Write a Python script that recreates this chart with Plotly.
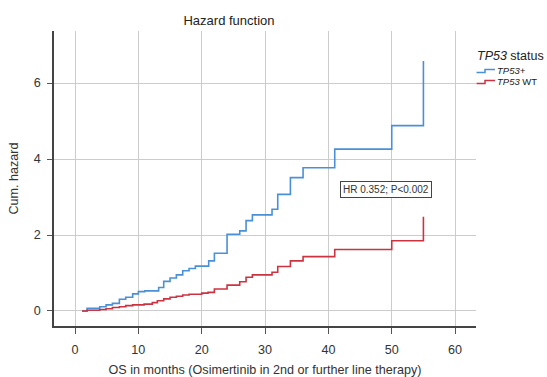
import plotly.graph_objects as go

# Step times (months) and cumulative hazard after each step
tp53_pos_t = [1.1, 1.9, 3.9, 4.9, 5.9, 7.0, 8.0, 9.1, 10.0, 11.0, 13.2, 14.0, 15.0, 16.0,
              17.0, 18.0, 19.0, 21.1, 22.0, 24.0, 26.0, 27.0, 28.0, 31.1, 32.0, 34.0,
              36.0, 41.0, 50.0, 55.0, 55.0]
tp53_pos_h = [0.0, 0.07, 0.11, 0.16, 0.20, 0.31, 0.36, 0.45, 0.51, 0.53, 0.62, 0.78, 0.87, 0.95,
              1.06, 1.12, 1.18, 1.32, 1.52, 2.02, 2.11, 2.38, 2.53, 2.68, 3.07, 3.51,
              3.77, 4.26, 4.88, 4.88, 6.58]

tp53_wt_t = [1.1, 1.9, 3.9, 4.9, 5.9, 7.0, 8.0, 9.1, 10.9, 12.2, 13.0, 14.0, 15.0, 16.0,
             17.0, 18.0, 20.0, 21.0, 22.0, 24.0, 26.0, 27.0, 28.0, 31.1, 32.0, 34.0,
             36.0, 41.0, 50.0, 55.0, 55.0]
tp53_wt_h = [0.0, 0.02, 0.04, 0.06, 0.09, 0.11, 0.14, 0.16, 0.18, 0.22, 0.27, 0.32, 0.36, 0.39,
             0.42, 0.44, 0.47, 0.49, 0.58, 0.68, 0.77, 0.89, 0.95, 1.02, 1.17, 1.32,
             1.43, 1.62, 1.85, 1.85, 2.48]

x_ticks = [0, 10, 20, 30, 40, 50, 60]
y_ticks = [0, 2, 4, 6]

series_names = ["<i>TP53+</i>", "<i>TP53</i> WT"]
legend_title = "<i>TP53</i> status"

BLUE = "#4a90d6"
RED = "#cc3340"
FONT = "Liberation Sans, Arial, sans-serif"
W, H = 547, 377
ML, MR, MT, MB = 54, 71, 31, 51
PW, PH = W - ML - MR, H - MT - MB


def px2paper_x(px):
    return (px - ML) / PW


def py2paper_y(py):
    return (H - MB - py) / PH


fig = go.Figure()
fig.add_trace(go.Scatter(x=tp53_pos_t, y=tp53_pos_h, mode="lines", line_shape="hv",
                         line=dict(color=BLUE, width=1.6), name=series_names[0]))
fig.add_trace(go.Scatter(x=tp53_wt_t, y=tp53_wt_h, mode="lines", line_shape="hv",
                         line=dict(color=RED, width=1.6), name=series_names[1]))

fig.add_annotation(x=49.1, y=3.21, xref="x", yref="y", text="HR 0.352; P<0.002",
                   showarrow=False, font=dict(family=FONT, size=10, color="#333"),
                   bordercolor="#444", borderwidth=1, borderpad=2, bgcolor="white")

# Custom legend (step-shaped keys)
fig.add_annotation(x=px2paper_x(475), y=py2paper_y(56.5), xref="paper", yref="paper",
                   text=legend_title, showarrow=False, xanchor="left", yanchor="middle",
                   font=dict(family=FONT, size=12.5, color="#222"))
for i, (name, col) in enumerate(zip(series_names, [BLUE, RED])):
    base = 72.5 + i * 11
    xs = [476.5, 485, 485, 495]
    ys = [base, base, base - 3, base - 3]
    path = "M " + " L ".join(f"{px2paper_x(a)},{py2paper_y(b)}" for a, b in zip(xs, ys))
    fig.add_shape(type="path", path=path, xref="paper", yref="paper",
                  line=dict(color=col, width=1.5))
    fig.add_annotation(x=px2paper_x(496), y=py2paper_y(base - 2), xref="paper", yref="paper",
                       text=name, showarrow=False, xanchor="left", yanchor="middle",
                       borderpad=0,
                       font=dict(family=FONT, size=9.5, color="#222"))

fig.update_layout(
    width=W, height=H,
    margin=dict(l=ML, r=MR, t=MT, b=MB),
    paper_bgcolor="white", plot_bgcolor="white",
    font=dict(family=FONT, size=12, color="#333"),
    title=dict(text="Hazard function", x=229/547, xanchor="center",
               y=1 - 20/377, yanchor="middle", font=dict(size=13, color="#222")),
    showlegend=False,
    xaxis=dict(range=[-3.32, 63.3], tickvals=x_ticks, ticks="outside", ticklen=6,
               tickcolor="#555", showline=True, linecolor="#444", linewidth=1.5,
               showgrid=True, gridcolor="#cccccc", gridwidth=1, zeroline=False,
               ticklabelstandoff=5, automargin=False,
               title=dict(text="OS in months (Osimertinib in 2nd or further line therapy)",
                          font=dict(size=12.6, color="#333"), standoff=12),
               tickfont=dict(size=12.6, color="#333")),
    yaxis=dict(range=[-0.395, 7.37], tickvals=y_ticks, ticks="outside", ticklen=5,
               tickcolor="#555", showline=True, linecolor="#444", linewidth=1.5,
               showgrid=True, gridcolor="#cccccc", gridwidth=1, zeroline=False,
               ticklabelstandoff=4, automargin=False,
               title=dict(text="Cum. hazard", font=dict(size=12.6, color="#333"), standoff=12),
               tickfont=dict(size=12.6, color="#333")),
)

fig.write_html("out.html")
